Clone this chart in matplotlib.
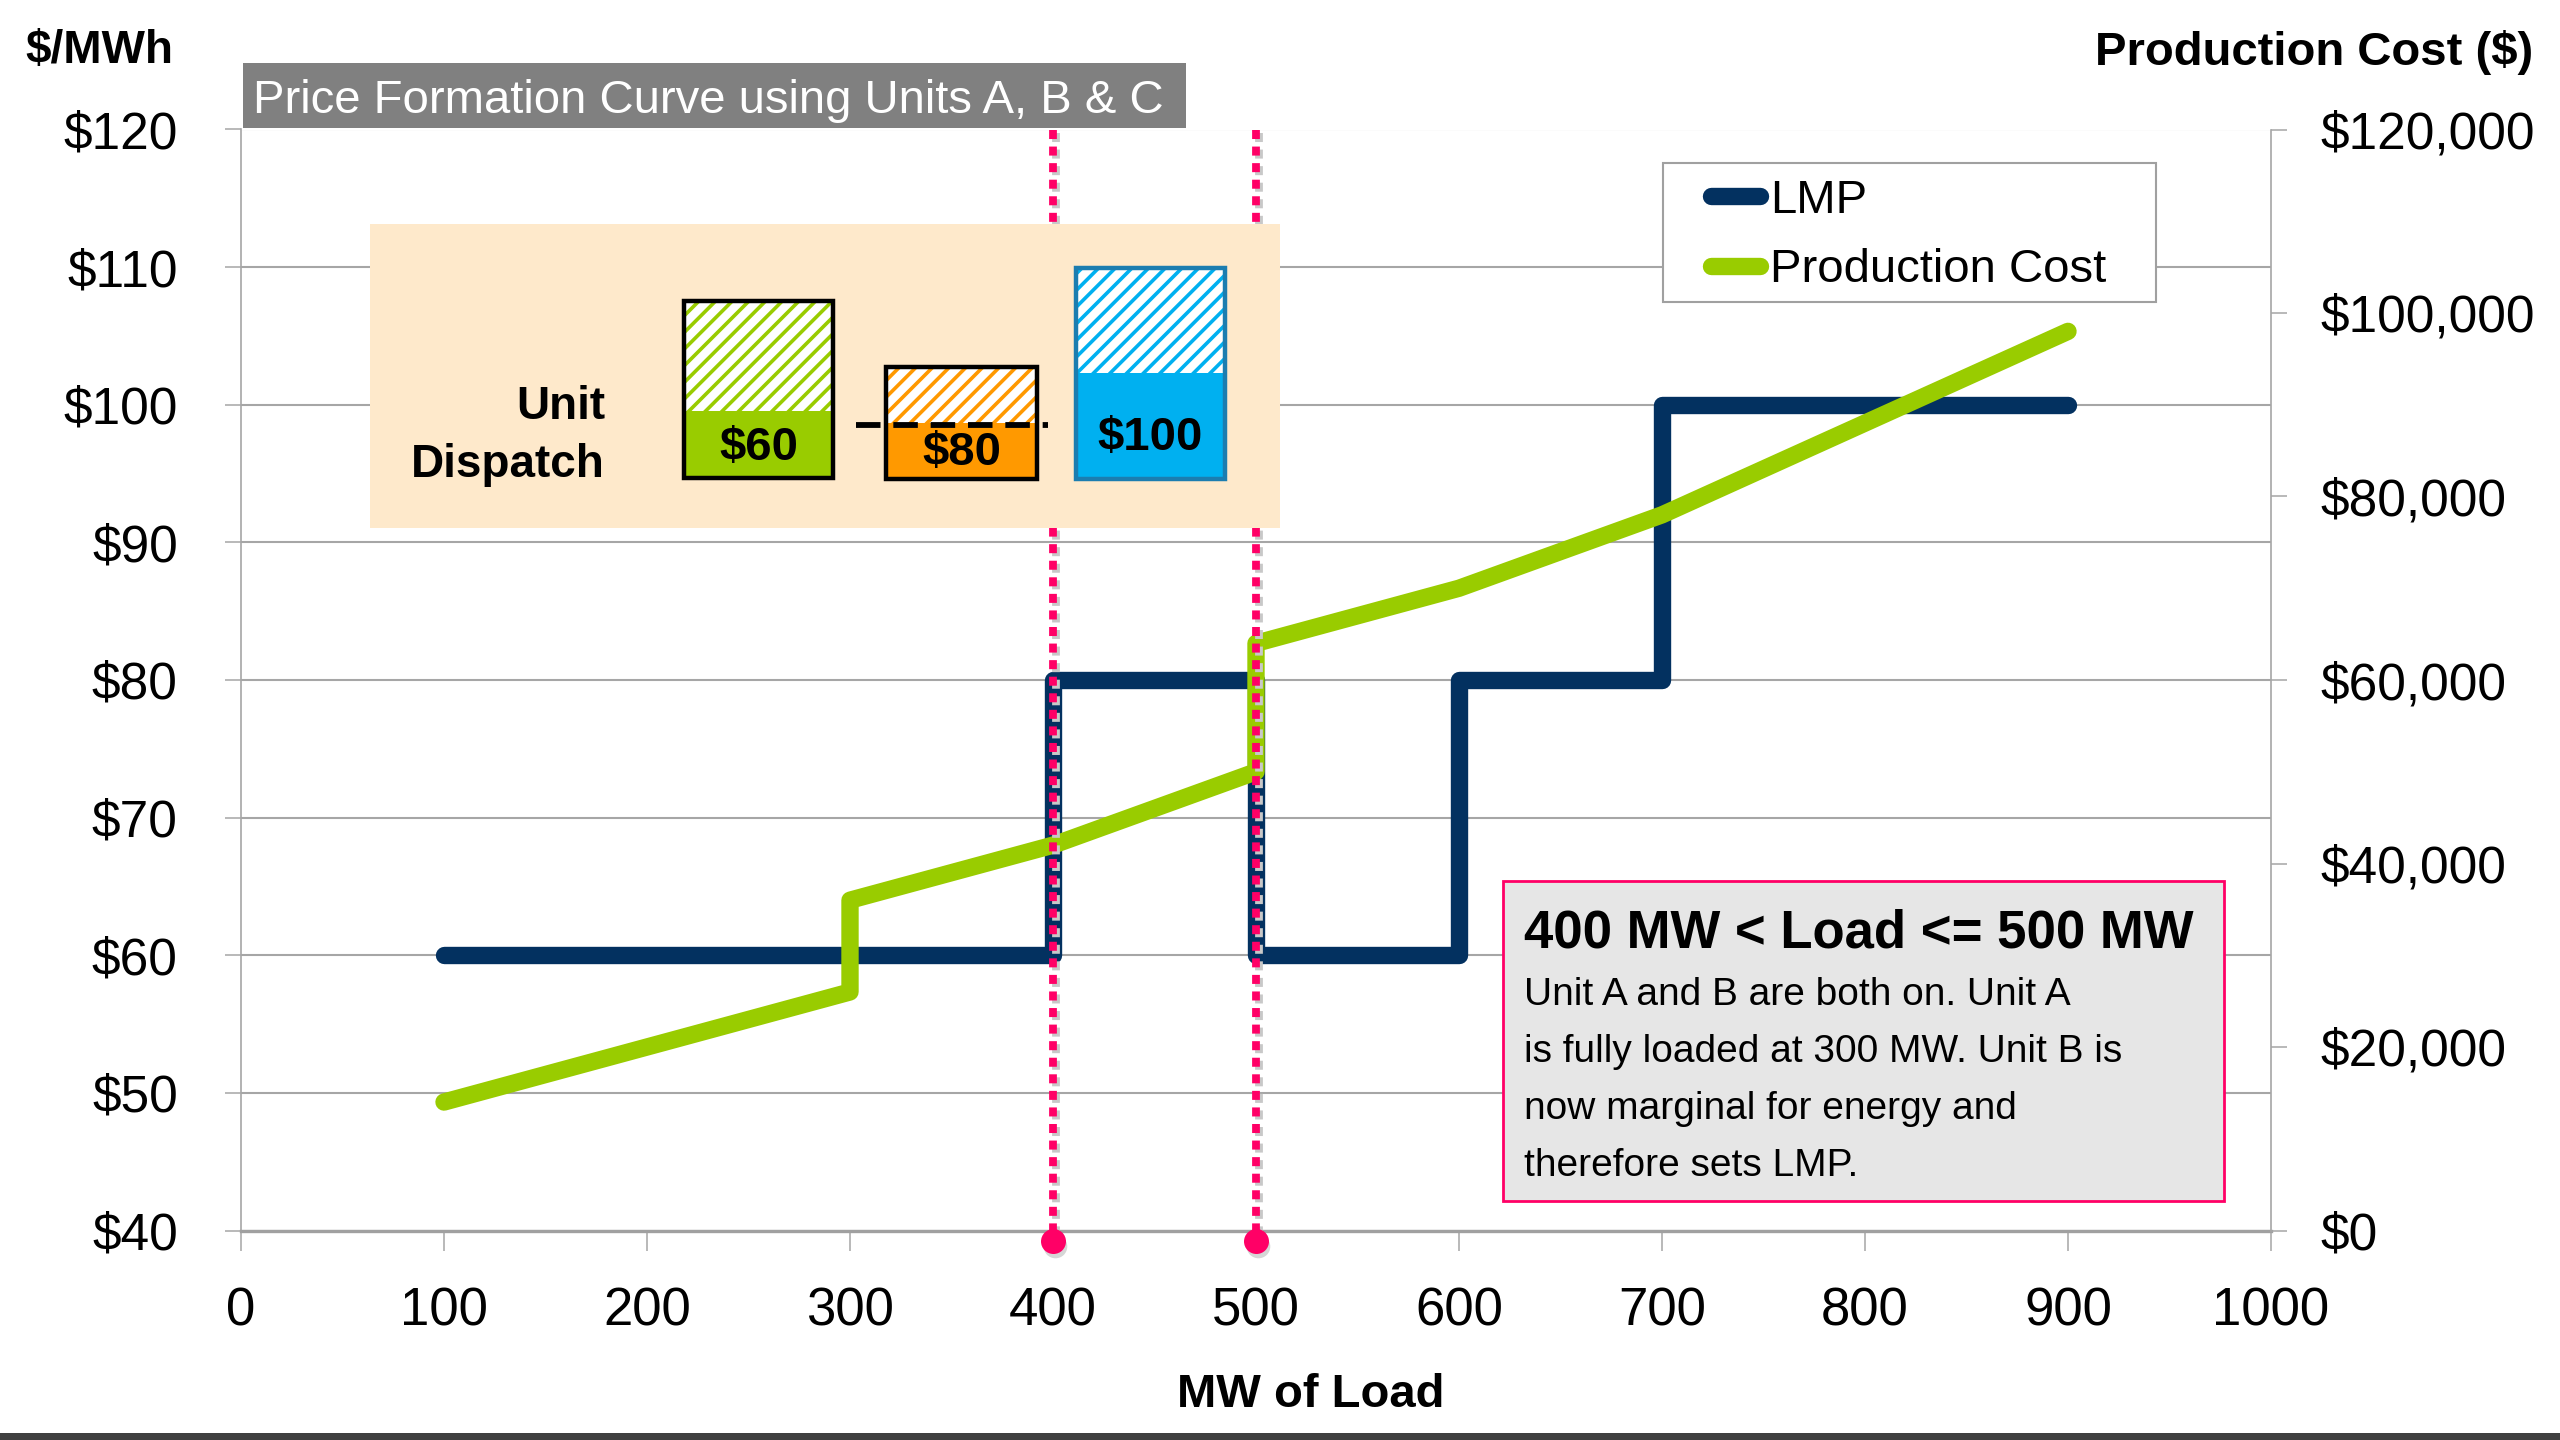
import matplotlib.pyplot as plt
import matplotlib.transforms as mtransforms
from matplotlib import font_manager
from matplotlib.patches import Rectangle
from matplotlib.lines import Line2D

# LMP step curve ($/MWh) against load (MW)
lmp_mw = [100, 400, 400, 500, 500, 600, 600, 700, 700, 900]
lmp_price = [60, 60, 80, 80, 60, 60, 80, 80, 100, 100]

# total production cost ($) against load (MW)
cost_mw = [100, 300, 300, 400, 500, 500, 600, 700, 900]
cost_usd = [14000, 26000, 36000, 42000, 50000, 64000, 70000, 78000, 98000]

# load band being explained
band_mw = [400, 500]

x_ticks = [0, 100, 200, 300, 400, 500, 600, 700, 800, 900, 1000]
lmp_ticks = [40, 50, 60, 70, 80, 90, 100, 110, 120]
cost_ticks = [0, 20000, 40000, 60000, 80000, 100000, 120000]

# unit offer prices shown in the dispatch panel
unit_prices = [60, 80, 100]
unit_colors = ['#99CC00', '#FF9900', '#00B0F0']
unit_edges = ['black', 'black', '#1B7DB0']

note_title = '400 MW < Load <= 500 MW'
note_lines = ['Unit A and B are both on. Unit A',
              'is fully loaded at 300 MW. Unit B is',
              'now marginal for energy and',
              'therefore sets LMP.']

NAVY = '#033160'
GREEN = '#99CC00'
PINK = '#FF0066'
GRID = '#A6A6A6'

names = {f.name for f in font_manager.fontManager.ttflist}
narrow = 'Liberation Sans Narrow' if 'Liberation Sans Narrow' in names else 'Liberation Sans'
xtick_size = 44 if narrow == 'Liberation Sans Narrow' else 38
plt.rcParams['font.family'] = ['Liberation Sans', 'DejaVu Sans']
plt.rcParams['hatch.linewidth'] = 2.6

W, H = 2560, 1440
fig = plt.figure(figsize=(W / 100, H / 100), dpi=100)


def fx(px):
    return px / W


def fy(py):
    return 1 - py / H


def box(left, top, right, bottom, **kw):
    r = Rectangle((fx(left), fy(bottom)), fx(right - left), (bottom - top) / H,
                  transform=fig.transFigure, **kw)
    fig.add_artist(r)
    return r


ax = fig.add_axes([fx(241), fy(1230.5), fx(2271 - 241), (1230.5 - 129.5) / H])
ax2 = ax.twinx()

lmp_line, = ax.plot(lmp_mw, lmp_price, color=NAVY, lw=12.5,
                    solid_capstyle='round', solid_joinstyle='round', zorder=3)
cost_line, = ax2.plot(cost_mw, cost_usd, color=GREEN, lw=12.5,
                      solid_capstyle='round', solid_joinstyle='round', zorder=3)

ax.set_xlim(0, 1000)
ax.set_ylim(40, 120)
ax2.set_ylim(0, 120000)

# dotted markers at the band edges, with a soft shadow
xtrans = ax2.get_xaxis_transform()
shadow = mtransforms.offset_copy(xtrans, fig=fig, x=3, y=-3, units='dots')
below = mtransforms.offset_copy(xtrans, fig=fig, x=0, y=-10, units='dots')
below_shadow = mtransforms.offset_copy(xtrans, fig=fig, x=2, y=-15, units='dots')
for mw in band_mw:
    ax2.plot([mw, mw], [1, 0], transform=shadow, color='#C8C8C8', lw=5.6,
             linestyle=(0, (1.16, 0.97)), dash_capstyle='butt', clip_on=False, zorder=4)
    ax2.plot([mw, mw], [1, 0], transform=xtrans, color=PINK, lw=5.6,
             linestyle=(0, (1.16, 0.97)), dash_capstyle='butt', clip_on=False, zorder=5)
    ax2.plot([mw], [0], 'o', transform=below_shadow, color='#BBBBBB', ms=17, mew=0,
             alpha=0.6, clip_on=False, zorder=4)
    ax2.plot([mw], [0], 'o', transform=below, color=PINK, ms=18, mew=0,
             clip_on=False, zorder=6)

# axes styling
ax.set_xticks(x_ticks)
ax.set_xticklabels([str(v) for v in x_ticks], fontfamily=narrow)
ax.set_yticks(lmp_ticks)
ax.set_yticklabels([f'${v}' for v in lmp_ticks])
ax2.set_yticks(cost_ticks)
ax2.set_yticklabels([f'${v:,}' for v in cost_ticks])

ax.yaxis.grid(True, color=GRID, lw=1.5)
ax.set_axisbelow(True)
for s in ['top', 'right']:
    ax.spines[s].set_visible(False)
for s in ['top', 'left', 'bottom']:
    ax2.spines[s].set_visible(False)
ax.spines['left'].set_color(GRID)
ax.spines['left'].set_linewidth(1.2)
ax.spines['bottom'].set_color('#A0A0A0')
ax.spines['bottom'].set_linewidth(2.4)
ax2.spines['right'].set_color(GRID)
ax2.spines['right'].set_linewidth(1.2)

ax.tick_params(axis='y', direction='out', length=11.5, width=1.1, color=GRID,
               pad=34, labelsize=37)
ax.tick_params(axis='x', direction='out', length=14.4, width=1.1, color=GRID,
               pad=26, labelsize=xtick_size)
ax2.tick_params(axis='y', direction='out', length=11.5, width=1.1, color=GRID,
                pad=24, labelsize=37)

# axis titles
fig.text(fx(25), fy(63), '$/MWh', fontsize=33, fontweight='bold', va='baseline')
fig.text(fx(2533), fy(65), 'Production Cost ($)', fontsize=34, fontweight='bold',
         ha='right', va='baseline')
fig.text(fx(1311), fy(1407), 'MW of Load', fontsize=34, fontweight='bold',
         ha='center', va='baseline')

# chart title tab
box(243, 63, 1186, 128, facecolor='#808080', lw=0)
fig.text(fx(253), fy(113), 'Price Formation Curve using Units A, B & C', color='white',
         fontsize=34, va='baseline')

# legend
box(1663, 163, 2156, 302, facecolor='white', edgecolor='#A0A0A0', lw=1.5, zorder=4)
fig.legend([lmp_line, cost_line], ['LMP', 'Production Cost'], loc='upper left',
           bbox_to_anchor=(fx(1711), fy(179)), frameon=False, borderpad=0,
           borderaxespad=0, handlelength=1.04, handletextpad=0.21,
           labelspacing=0.53, fontsize=34).set_zorder(5)

# unit dispatch panel
box(370, 224, 1280, 528, facecolor='#FEE9CB', lw=0, zorder=2)
fig.text(fx(605), fy(419), 'Unit', fontsize=33, fontweight='bold', ha='right', va='baseline')
fig.text(fx(605), fy(477), 'Dispatch', fontsize=33, fontweight='bold', ha='right', va='baseline')

unit_boxes = [(684, 301, 833, 478, 411), (886, 367, 1037, 479, 423), (1076, 268, 1225, 479, 373)]
label_base = [460, 465, 450]
for (l, t, r, b, split), price, col, edge, base in zip(unit_boxes, unit_prices, unit_colors,
                                                      unit_edges, label_base):
    box(l, t, r, split, facecolor='white', edgecolor=col, hatch='//', lw=0, zorder=2.1)
    box(l, split, r, b, facecolor=col, lw=0, zorder=2.1)
    box(l, t, r, b, fill=False, edgecolor=edge, lw=3.2, zorder=2.2)
    fig.text(fx((l + r) / 2), fy(base), f'${price}', fontsize=34, fontweight='bold',
             ha='center', va='baseline', zorder=3)

fig.add_artist(Line2D([fx(856), fx(1048)], [fy(425), fy(425)], transform=fig.transFigure,
                      color='black', lw=4.2, dashes=(4.2, 2.2), zorder=3.5))

# explanation note
box(1503, 881, 2224, 1201, facecolor='#E6E6E6', edgecolor=PINK, lw=2, zorder=2)
fig.text(fx(1524), fy(947), note_title, fontsize=38, fontweight='bold', va='baseline', zorder=3)
for i, line in enumerate(note_lines):
    fig.text(fx(1524), fy(1005 + 57 * i), line, fontsize=28, fontfamily=narrow,
             va='baseline', zorder=3)

# footer strip
box(0, 1433, W, H, facecolor='#404040', lw=0)

fig.savefig('out.png', dpi=100)
